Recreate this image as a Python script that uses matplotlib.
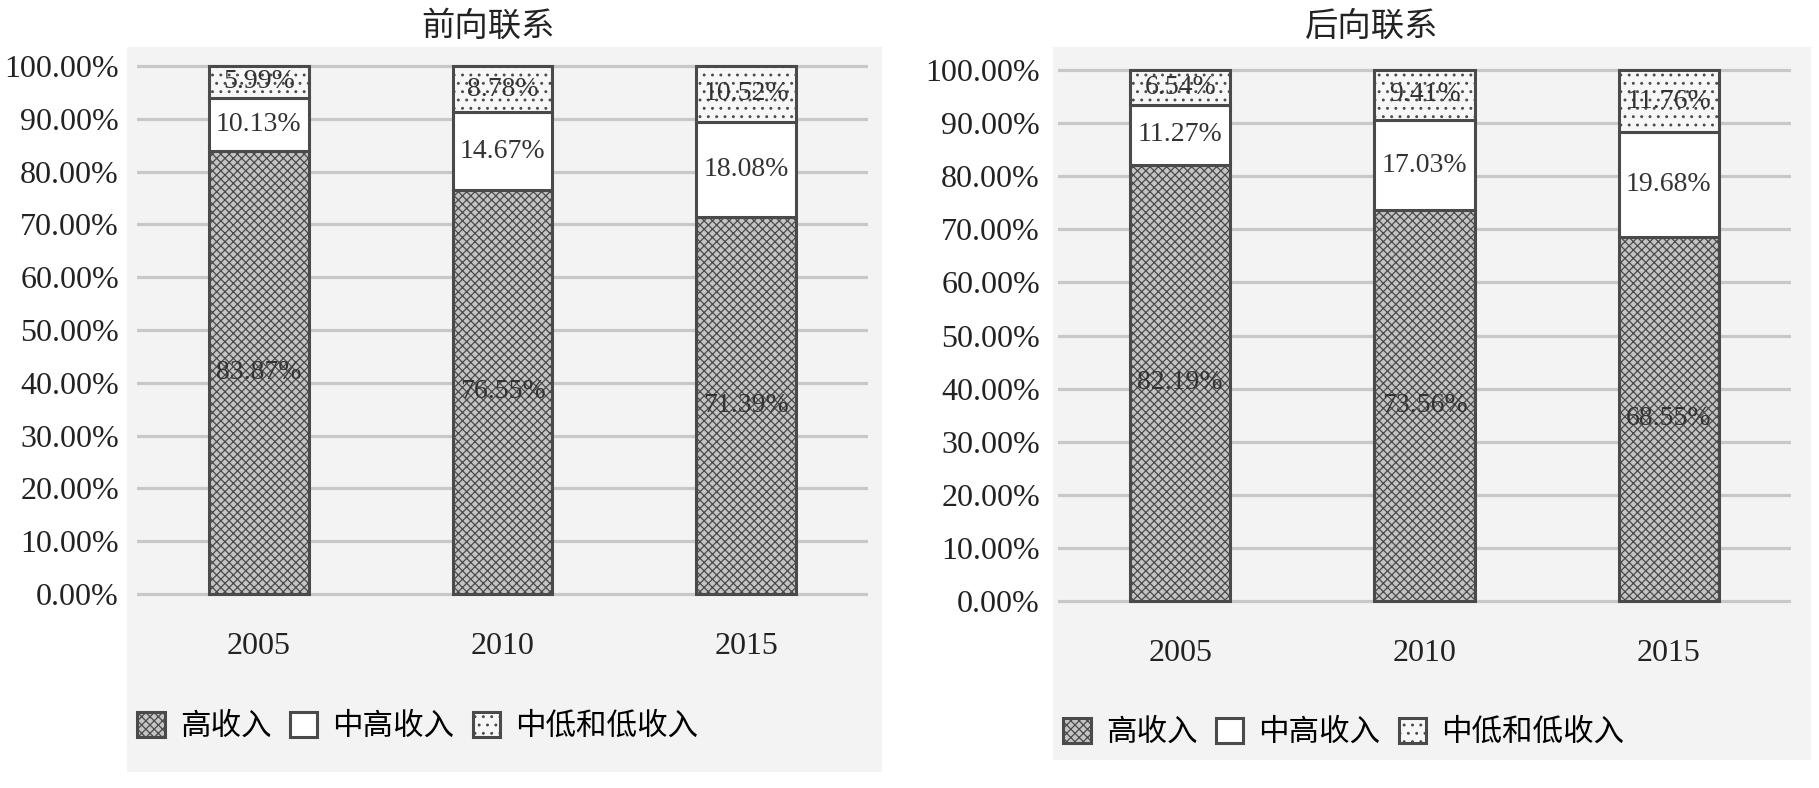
import matplotlib
matplotlib.use('Agg')
import matplotlib.pyplot as plt
from matplotlib.patches import Rectangle, Patch
import numpy as np

plt.rcParams['font.family'] = ['Liberation Serif', 'Noto Sans CJK SC']
plt.rcParams['hatch.linewidth'] = 0.9

years = ['2005', '2010', '2015']
series = ['高收入', '中高收入', '中低和低收入']
titles = ['前向联系', '后向联系']

# 前向联系
fwd_high = [83.87, 76.55, 71.39]
fwd_upmid = [10.13, 14.67, 18.08]
fwd_low = [5.99, 8.78, 10.52]
# 后向联系
bwd_high = [82.19, 73.56, 68.55]
bwd_upmid = [11.27, 17.03, 19.68]
bwd_low = [6.54, 9.41, 11.76]

W, H = 1819, 788
fig = plt.figure(figsize=(W / 100, H / 100), dpi=100)
fig.patch.set_facecolor('white')

edge = '#4a4a4a'
styles = [dict(facecolor='#c4c4c4', hatch='xxxx'),
          dict(facecolor='white', hatch=None),
          dict(facecolor='#f7f7f7', hatch='..')]

# pixel layout: (panel x0, x1, y0, y1), (axis x0, x1, y100, y0), title x, legend y
layouts = [
    ((127, 882, 47, 772), (137, 868, 66, 594), 488, 727),
    ((1053, 1811, 47, 760), (1058, 1791, 70, 601), 1372, 733),
]
datasets = [(fwd_high, fwd_upmid, fwd_low), (bwd_high, bwd_upmid, bwd_low)]


def fx(px):
    return px / W


def fy(py):
    return 1 - py / H


for (panel, axpx, tx, ly), data, title in zip(layouts, datasets, titles):
    px0, px1, py0, py1 = panel
    fig.patches.append(Rectangle((fx(px0), fy(py1)), fx(px1) - fx(px0), fy(py0) - fy(py1),
                                 transform=fig.transFigure, facecolor='#f3f3f3',
                                 edgecolor='none', zorder=-5))
    ax0, ax1, y100, y0 = axpx
    pad = 0.6  # data units beyond 0 / 100 so gridlines are not clipped
    ppu = (y0 - y100) / 100.0
    ax = fig.add_axes([fx(ax0), fy(y0 + pad * ppu), fx(ax1) - fx(ax0),
                       (y0 - y100 + 2 * pad * ppu) / H])
    ax.set_zorder(2)
    ax.set_facecolor('none')
    ax.set_ylim(-pad, 100 + pad)
    ax.set_xlim(-0.5, 2.5)
    for s in ax.spines.values():
        s.set_visible(False)
    ax.set_yticks(np.arange(0, 101, 10))
    ax.set_yticklabels([f'{v:.2f}%' for v in np.arange(0, 101, 10)])
    ax.set_xticks(range(len(years)))
    ax.set_xticklabels(years)
    ax.tick_params(axis='y', length=0, pad=13, labelsize=23, labelcolor='#222222')
    ax.tick_params(axis='x', length=0, pad=25, labelsize=23, labelcolor='#222222')
    ax.yaxis.grid(True, color='#c8c8c8', lw=2.3)
    ax.set_axisbelow(True)

    x = np.arange(len(years))
    bottom = np.zeros(len(years))
    for vals, st in zip(data, styles):
        vals = np.array(vals)
        ax.bar(x, vals, 0.41, bottom=bottom, edgecolor=edge, linewidth=2.2,
               zorder=2, **st)
        for xi, b, v in zip(x, bottom, vals):
            ax.text(xi, b + v / 2, f'{v:.2f}%', ha='center', va='center',
                    fontsize=20, color='#333333', zorder=3)
        bottom = bottom + vals

    fig.text(fx(tx), fy(27), title, ha='center', va='center', fontsize=24,
             color='#222222')

    handles = [Patch(edgecolor=edge, linewidth=2.2, **st) for st in styles]
    fig.legend(handles, series, loc='center left', bbox_to_anchor=(fx(px0 + 10), fy(ly)),
               ncol=3, frameon=False, fontsize=22, handlelength=0.9, handleheight=0.9,
               handletextpad=0.5, columnspacing=0.6, borderpad=0, borderaxespad=0)

fig.savefig('out.png', dpi=100)
